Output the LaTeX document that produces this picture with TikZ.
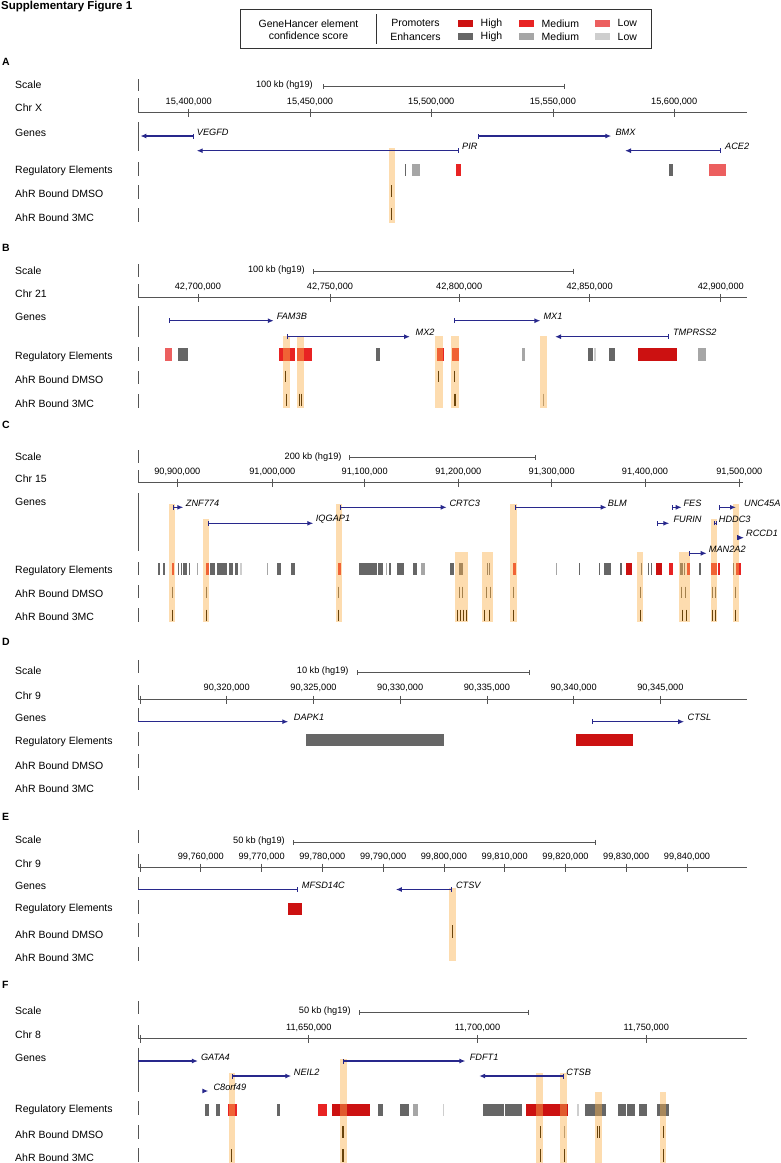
\documentclass[tikz,border=0pt]{standalone}
\usepackage{fontspec}
\setmainfont{Liberation Sans}
\usetikzlibrary{arrows.meta}
\definecolor{prohigh}{RGB}{204,17,17}
\definecolor{promed}{RGB}{232,35,35}
\definecolor{prolow}{RGB}{236,95,95}
\definecolor{enhhigh}{RGB}{102,102,102}
\definecolor{enhmed}{RGB}{166,166,166}
\definecolor{enhlow}{RGB}{206,206,206}
\definecolor{genenavy}{RGB}{40,40,140}
\definecolor{hlorange}{RGB}{250,177,77}
\definecolor{bindbrown}{RGB}{105,68,12}
\definecolor{axisgray}{RGB}{85,85,85}

\begin{document}
\begin{tikzpicture}[x=1pt, y=-1pt,
  rowlab/.style={anchor=west, inner sep=0pt, font=\fontsize{10.5}{12}\selectfont},
  panlab/.style={anchor=west, inner sep=0pt, font=\fontsize{10.5}{12}\selectfont\bfseries},
  leglab/.style={inner sep=0pt, font=\fontsize{10.5}{12}\selectfont},
  ticklab/.style={inner sep=0pt, font=\fontsize{9.2}{11}\selectfont},
  genelab/.style={anchor=west, inner sep=0pt, font=\fontsize{9.2}{11}\selectfont\itshape},
  scalelab/.style={anchor=east, inner sep=0pt, font=\fontsize{9.2}{11}\selectfont},
  trackbar/.style={axisgray, line width=0.8pt},
  axisline/.style={axisgray, line width=0.8pt},
  scalebar/.style={axisgray, line width=0.7pt, {Bar[width=5pt]}-{Bar[width=5pt]}},
  genearr/.style={genenavy, line width=1.2pt, {Bar[width=5pt,line width=0.7pt]}-{Latex[length=6pt,width=5pt]}},
  genecut/.style={genenavy, line width=1.2pt, -{Latex[length=6pt,width=5pt]}},
  hl/.style={fill=hlorange, fill opacity=0.45},
  bindmark/.style={bindbrown, line width=0.7pt},
  bindthick/.style={bindbrown, line width=1.4pt}]
\useasboundingbox (0,0) rectangle (781,1163);

% Title and legend
\node[anchor=west, inner sep=0pt, font=\fontsize{11.5}{13}\selectfont\bfseries] (title) at (1,6.5) {Supplementary Figure 1};
\draw[black!80, line width=0.8pt] (240,9) rectangle (651.5,48.3);
\node[leglab] (lgA) at (308.5,23.3) {GeneHancer element};
\node[leglab] (lgB) at (308.5,35.7) {confidence score};
\draw[black!80, line width=0.8pt] (376,14) -- (376,44);
\node[leglab] (lgP) at (415.5,23.3) {Promoters};
\node[leglab] (lgE) at (415.5,36.3) {Enhancers};
\foreach \x/\c/\t [count=\i] in {458/prohigh/High, 519/promed/Medium, 595/prolow/Low} {
  \fill[\c] (\x,20) rectangle +(15,6.7);
  \node[leglab, anchor=west] (lp\i) at (\x+22.5,23.3) {\t};
}
\foreach \x/\c/\t [count=\i] in {458/enhhigh/High, 519/enhmed/Medium, 595/enhlow/Low} {
  \fill[\c] (\x,33.3) rectangle +(15,6.7);
  \node[leglab, anchor=west] (le\i) at (\x+22.5,36.5) {\t};
}

% Panel A
\node[panlab] (pA) at (2,62) {A};
\foreach \y/\t [count=\i] in {85/Scale, 107.3/Chr X, 133.3/Genes, 171/Regulatory Elements, 193.3/AhR Bound DMSO, 217.3/AhR Bound 3MC}
  \node[rowlab] (lA\i) at (15,\y) {\t};
\foreach \a/\b in {79/91, 122/151, 162/176, 185/199, 208/222}
  \draw[trackbar] (138.3,\a) -- (138.3,\b);
\draw[axisline] (138.3,98) -- (138.3,112.3) -- (746.7,112.3);
\foreach \x/\t [count=\i] in {188.75/{15,400,000}, 310/{15,450,000}, 431.25/{15,500,000}, 552.9/{15,550,000}, 674.2/{15,600,000}} {
  \draw[axisline] (\x,108.8) -- (\x,116.8);
  \node[ticklab] (tA\i) at (\x,101.6) {\t};
}
\node[scalelab] (kA) at (313,85) {100 kb (hg19)};
\draw[scalebar] (322.5,86) -- (564.6,86);
\foreach \a/\b/\c in {404.6/405.6/enhhigh, 412/419.6/enhmed, 456.25/461.25/promed, 668.75/672.9/enhhigh, 709/726/prolow}
  \fill[\c] (\a,164) rectangle (\b,176);
\fill[hl] (389.2,148.3) rectangle (395.4,223);
\draw[genearr] (193.75,136) -- (140.4,136);
\node[genelab] (gA1) at (196.7,132) {VEGFD};
\draw[genearr] (459,150.7) -- (196.7,150.7);
\node[genelab] (gA2) at (462,146.7) {PIR};
\draw[genearr] (477.9,136) -- (611.25,136);
\node[genelab] (gA3) at (615.4,132) {BMX};
\draw[genearr] (720.8,150.7) -- (625,150.7);
\node[genelab] (gA4) at (725,146.7) {ACE2};
\draw[bindmark] (391.7,185) -- (391.7,197);
\draw[bindmark] (391.7,208) -- (391.7,220);

% Panel B
\node[panlab] (pB) at (2,247.7) {B};
\foreach \y/\t [count=\i] in {270.7/Scale, 294/Chr 21, 316.7/Genes, 356.7/Regulatory Elements, 380/AhR Bound DMSO, 403.3/AhR Bound 3MC}
  \node[rowlab] (lB\i) at (15,\y) {\t};
\foreach \a/\b in {264/277, 306/337, 347/361, 371/384, 394/408}
  \draw[trackbar] (138.3,\a) -- (138.3,\b);
\draw[axisline] (138.3,284) -- (138.3,297.3) -- (746.7,297.3);
\foreach \x/\t [count=\i] in {197.9/{42,700,000}, 330/{42,750,000}, 459.2/{42,800,000}, 589.6/{42,850,000}, 720.8/{42,900,000}} {
  \draw[axisline] (\x,293.8) -- (\x,301.8);
  \node[ticklab] (tB\i) at (\x,286.6) {\t};
}
\node[scalelab] (kB) at (305,270.3) {100 kb (hg19)};
\draw[scalebar] (313.3,271) -- (573.75,271);
\foreach \a/\b/\c in {165.4/171.7/prolow, 177.9/188.3/enhhigh, 279.2/294.6/promed, 296.7/312.1/promed, 375.8/380/enhhigh, 437.1/443.75/promed, 451.7/459.2/promed, 521.7/525/enhmed, 587.5/592.5/enhhigh, 593.75/595.8/enhlow, 609.2/614.6/enhhigh, 638.3/677.1/prohigh, 697.5/706.25/enhmed}
  \fill[\c] (\a,348) rectangle (\b,360.5);
\foreach \a/\b in {283.3/290.4, 297.1/303.75, 435.4/442.5, 450.8/459.2, 540.4/546.7}
  \fill[hl] (\a,336) rectangle (\b,408);
\draw[genearr] (168.75,320.7) -- (273.75,320.7);
\node[genelab] (gB1) at (276.7,316.7) {FAM3B};
\draw[genearr] (287.1,336.7) -- (410,336.7);
\node[genelab] (gB2) at (415.4,332.7) {MX2};
\draw[genearr] (454.2,320.7) -- (540.4,320.7);
\node[genelab] (gB3) at (543.3,316.7) {MX1};
\draw[genearr] (668.75,336.7) -- (555,336.7);
\node[genelab] (gB4) at (672.9,332.7) {TMPRSS2};
\foreach \x in {285.4, 438.3, 454.2}
  \draw[bindmark] (\x,370.5) -- (\x,382);
\foreach \x in {299.6, 301.25, 454.6, 455.8}
  \draw[bindmark] (\x,393.5) -- (\x,405.5);
\draw[bindthick] (286.25,393.5) -- (286.25,405.5);
\draw[bindmark, opacity=0.4] (542.9,393.5) -- (542.9,405.5);

% Panel C
\node[panlab] (pC) at (2,425) {C};
\foreach \y/\t [count=\i] in {456.7/Scale, 479/Chr 15, 501.7/Genes, 570.7/Regulatory Elements, 593.3/AhR Bound DMSO, 616.7/AhR Bound 3MC}
  \node[rowlab] (lC\i) at (15,\y) {\t};
\foreach \a/\b in {450/463, 493/551, 562/575, 585/598, 608/622}
  \draw[trackbar] (138.3,\a) -- (138.3,\b);
\draw[axisline] (138.3,470) -- (138.3,482.5) -- (743.3,482.5);
\foreach \x/\t [count=\i] in {177.3/{90,900,000}, 272.3/{91,000,000}, 364.7/{91,100,000}, 458.3/{91,200,000}, 551.7/{91,300,000}, 645/{91,400,000}, 739.3/{91,500,000}} {
  \draw[axisline] (\x,478.5) -- (\x,487);
  \node[ticklab] (tC\i) at (\x,472) {\t};
}
\node[scalelab] (kC) at (341.7,456.7) {200 kb (hg19)};
\draw[scalebar] (349.3,457.3) -- (536,457.3);
\foreach \a/\b/\c in {158.3/159.5/enhhigh, 163.3/165/enhhigh, 172.3/174.3/promed, 177.7/179.3/enhhigh, 180.7/182.3/enhhigh, 183.3/186.7/enhhigh, 189.3/190.3/enhhigh, 196.7/197.5/enhmed, 206/208.7/promed, 210/215/enhhigh, 216.7/227.3/enhhigh, 228.7/233.3/enhhigh, 235.3/238.3/enhhigh, 240/242/enhlow, 266.7/267.5/enhmed, 276.7/280.7/enhhigh, 291.3/295.3/enhhigh, 338.3/341/promed, 359.3/376.7/enhhigh, 378.3/383.3/enhhigh, 385.7/387.3/enhmed, 389.3/390.7/enhhigh, 396.7/404/enhhigh, 413.3/416.7/enhhigh, 421.3/424.7/enhmed, 450/454.3/enhhigh, 459.3/462.7/enhhigh, 486.7/487.7/enhhigh, 489.3/490.3/enhhigh, 513.3/515.7/promed, 556/557.3/enhmed, 579/580.3/enhhigh, 599.3/600.3/enhhigh, 604/611/enhhigh, 620/621.7/enhhigh, 626/632.3/prohigh, 640.7/642/enhhigh, 648/649.3/enhhigh, 650.7/652.3/enhhigh, 656/662/prohigh, 669.3/672.7/promed, 680/682.7/enhhigh, 684/685/enhhigh, 686.7/690/promed, 699.3/701.3/enhhigh, 711.3/716.7/promed, 717.7/720.3/promed, 732.7/733.7/enhhigh, 735.7/740.7/promed}
  \fill[\c] (\a,563) rectangle (\b,575);
\foreach \a/\b/\t in {169/175/504, 202.7/208.7/519.3, 335.7/341.7/504, 454.7/468.3/551.7, 481.7/493.3/551.7, 510.3/516.7/504, 637/643.3/551.7, 679/690/551.7, 711/716.7/519.3, 733/738.7/504}
  \fill[hl] (\a,\t) rectangle (\b,622);
\draw[genearr] (173.3,507.3) -- (183.3,507.3);
\node[genelab] (gC1) at (185.7,503.3) {ZNF774};
\draw[genearr] (207.7,523.3) -- (313.3,523.3);
\node[genelab] (gC2) at (315.7,519.3) {IQGAP1};
\draw[genearr] (340,507.3) -- (446.7,507.3);
\node[genelab] (gC3) at (449.3,503.3) {CRTC3};
\draw[genearr] (515,507.3) -- (606.7,507.3);
\node[genelab] (gC4) at (607.7,503.3) {BLM};
\draw[genearr] (671.7,507.3) -- (681.7,507.3);
\node[genelab] (gC5) at (683.3,503.3) {FES};
\draw[genearr] (656.7,523.3) -- (669.3,523.3);
\node[genelab] (gC6) at (673.3,519.3) {FURIN};
\draw[genenavy, line width=1pt, {Bar[width=4pt]}-{Bar[width=4pt]}] (714,523.3) -- (716.5,523.3);
\node[genelab] (gC7) at (718.7,519.3) {HDDC3};
\draw[genearr] (719,507.3) -- (736,507.3);
\node[genelab] (gC8) at (744,503.3) {UNC45A};
\draw[genearr] (737.3,537.7) -- (744,537.7);
\node[genelab] (gC9) at (746,533.7) {RCCD1};
\draw[genearr] (688.7,553.3) -- (706.7,553.3);
\node[genelab] (gC10) at (708.7,549.3) {MAN2A2};
\foreach \x in {172.7, 206, 338.7, 459.3, 462.7, 486.7, 490, 513.3, 640.7, 681.7, 685, 712.7, 715, 735.7}
  \draw[bindmark, opacity=0.6] (\x,586.7) -- (\x,598.3);
\foreach \x in {172.7, 206, 338.7, 484.7, 489.3, 513.3, 640.7, 682, 686, 712.7, 715, 735.7}
  \draw[bindmark] (\x,609.5) -- (\x,621);
\foreach \x in {457.5, 460.5, 463.5, 466.5}
  \draw[bindthick] (\x,609.5) -- (\x,621);

% Panel D
\node[panlab] (pD) at (2,641.7) {D};
\foreach \y/\t [count=\i] in {671/Scale, 695.7/Chr 9, 718.3/Genes, 741.7/Regulatory Elements, 765.7/AhR Bound DMSO, 789/AhR Bound 3MC}
  \node[rowlab] (lD\i) at (15,\y) {\t};
\foreach \a/\b in {660/673, 732/746, 754/768, 776/790}
  \draw[trackbar] (138.3,\a) -- (138.3,\b);
\draw[trackbar] (138.3,685) -- (138.3,699);
\draw[axisline] (138.3,699) -- (746.7,699);
\draw[axisline] (140,695.5) -- (140,703.5);
\draw[trackbar] (138.3,708) -- (138.3,721.7);
\foreach \x/\t [count=\i] in {226.7/{90,320,000}, 313.5/{90,325,000}, 400.2/{90,330,000}, 486.9/{90,335,000}, 573.7/{90,340,000}, 660.4/{90,345,000}} {
  \draw[axisline] (\x,695.5) -- (\x,703.5);
  \node[ticklab] (tD\i) at (\x,688.3) {\t};
}
\node[scalelab] (kD) at (348.75,671.5) {10 kb (hg19)};
\draw[scalebar] (357.1,672.3) -- (530,672.3);
\fill[enhhigh] (305.8,733.5) rectangle (443.75,745.5);
\fill[prohigh] (575.8,733.5) rectangle (632.9,745.5);
\draw[genecut] (138.3,721.7) -- (288.3,721.7);
\node[genelab] (gD1) at (293.75,717.7) {DAPK1};
\draw[genearr] (591.7,721.7) -- (684.2,721.7);
\node[genelab] (gD2) at (687.5,717.7) {CTSL};

% Panel E
\node[panlab] (pE) at (2,816.7) {E};
\foreach \y/\t [count=\i] in {840/Scale, 863.3/Chr 9, 885.7/Genes, 909/Regulatory Elements, 934.3/AhR Bound DMSO, 957.7/AhR Bound 3MC}
  \node[rowlab] (lE\i) at (15,\y) {\t};
\foreach \a/\b in {830/843, 900/914, 923/937, 947/961}
  \draw[trackbar] (138.3,\a) -- (138.3,\b);
\draw[trackbar] (138.3,854) -- (138.3,867);
\draw[axisline] (138.3,867) -- (746.7,867);
\draw[axisline] (140,863.5) -- (140,871.5);
\draw[trackbar] (138.3,877) -- (138.3,889.5);
\foreach \x/\t [count=\i] in {200.8/{99,760,000}, 261.6/{99,770,000}, 322.3/{99,780,000}, 383.1/{99,790,000}, 443.9/{99,800,000}, 504.7/{99,810,000}, 565.5/{99,820,000}, 626.2/{99,830,000}, 687/{99,840,000}} {
  \draw[axisline] (\x,863.5) -- (\x,871.5);
  \node[ticklab] (tE\i) at (\x,856.5) {\t};
}
\node[scalelab] (kE) at (285,841.5) {50 kb (hg19)};
\draw[scalebar] (292.5,842.3) -- (595.4,842.3);
\fill[prohigh] (287.5,903) rectangle (301.7,914.5);
\fill[hl] (449.2,888.3) rectangle (455.8,961);
\draw[genenavy, line width=1.2pt, {Bar[width=5pt,line width=0.7pt]}-] (297.5,889.5) -- (138.3,889.5);
\node[genelab] (gE1) at (301.7,885.5) {MFSD14C};
\draw[genearr] (452,889.5) -- (395.8,889.5);
\node[genelab] (gE2) at (455.8,885.5) {CTSV};
\draw[bindmark] (452,925) -- (452,937.5);

% Panel F
\node[panlab] (pF) at (2,985) {F};
\foreach \y/\t [count=\i] in {1011/Scale, 1034.3/Chr 8, 1058.3/Genes, 1110/Regulatory Elements, 1134.3/AhR Bound DMSO, 1157.3/AhR Bound 3MC}
  \node[rowlab] (lF\i) at (15,\y) {\t};
\foreach \a/\b in {1001/1014, 1047.7/1091.7, 1101/1115, 1125/1139, 1148/1162}
  \draw[trackbar] (138.3,\a) -- (138.3,\b);
\draw[trackbar] (138.3,1025) -- (138.3,1038.3);
\draw[axisline] (138.3,1038.3) -- (746.7,1038.3);
\draw[axisline] (140,1034.8) -- (140,1042.8);
\foreach \x/\t [count=\i] in {308.8/{11,650,000}, 477.5/{11,700,000}, 646.3/{11,750,000}} {
  \draw[axisline] (\x,1034.8) -- (\x,1042.8);
  \node[ticklab] (tF\i) at (\x,1027.7) {\t};
}
\node[scalelab] (kF) at (350.8,1011.5) {50 kb (hg19)};
\draw[scalebar] (359.2,1012.3) -- (528.75,1012.3);
\foreach \a/\b/\c in {205/209.2/enhhigh, 215.8/219.6/enhhigh, 227.9/237/promed, 276.7/280/enhhigh, 318.3/326.7/promed, 331.7/369.6/prohigh, 377.9/383.3/enhhigh, 400/409.2/enhhigh, 413.3/418.3/enhmed, 443.3/444.2/enhlow, 483.3/503.75/enhhigh, 505/521.7/enhhigh, 525.8/568.3/prohigh, 576.7/578.75/enhlow, 585/606.25/enhhigh, 618.3/625.8/enhhigh, 626.7/635.4/enhhigh, 639.2/646.7/enhhigh, 657.1/668.75/enhhigh}
  \fill[\c] (\a,1104) rectangle (\b,1116);
\foreach \a/\b/\t in {228.75/234.6/1073.3, 340.4/346.7/1059, 536.25/542.5/1073.3, 560.4/566.7/1073.3, 595.4/601.7/1092, 660/666.25/1092}
  \fill[hl] (\a,\t) rectangle (\b,1163);
\draw[genecut] (138.3,1061) -- (197.9,1061);
\node[genelab] (gF1) at (200.8,1057) {GATA4};
\draw[genearr] (343.3,1061) -- (465.4,1061);
\node[genelab] (gF2) at (469.6,1057) {FDFT1};
\draw[genearr] (232,1076) -- (291.25,1076);
\node[genelab] (gF3) at (293.75,1072) {NEIL2};
\draw[genearr] (563.3,1076) -- (479.2,1076);
\node[genelab] (gF4) at (566.25,1072) {CTSB};
\draw[genecut] (203,1091) -- (208.3,1091);
\node[genelab] (gF5) at (213.3,1087) {C8orf49};
\foreach \x in {540.4, 597.5, 599.6, 663.3}
  \draw[bindmark] (\x,1126) -- (\x,1138);
\draw[bindmark, opacity=0.4] (564.2,1126) -- (564.2,1138);
\draw[bindthick] (342.9,1126) -- (342.9,1138);
\foreach \x in {231.7, 540.4, 564.2, 663.3}
  \draw[bindmark] (\x,1149) -- (\x,1161.5);
\draw[bindthick] (342.9,1149) -- (342.9,1161.5);
\end{tikzpicture}
\end{document}
